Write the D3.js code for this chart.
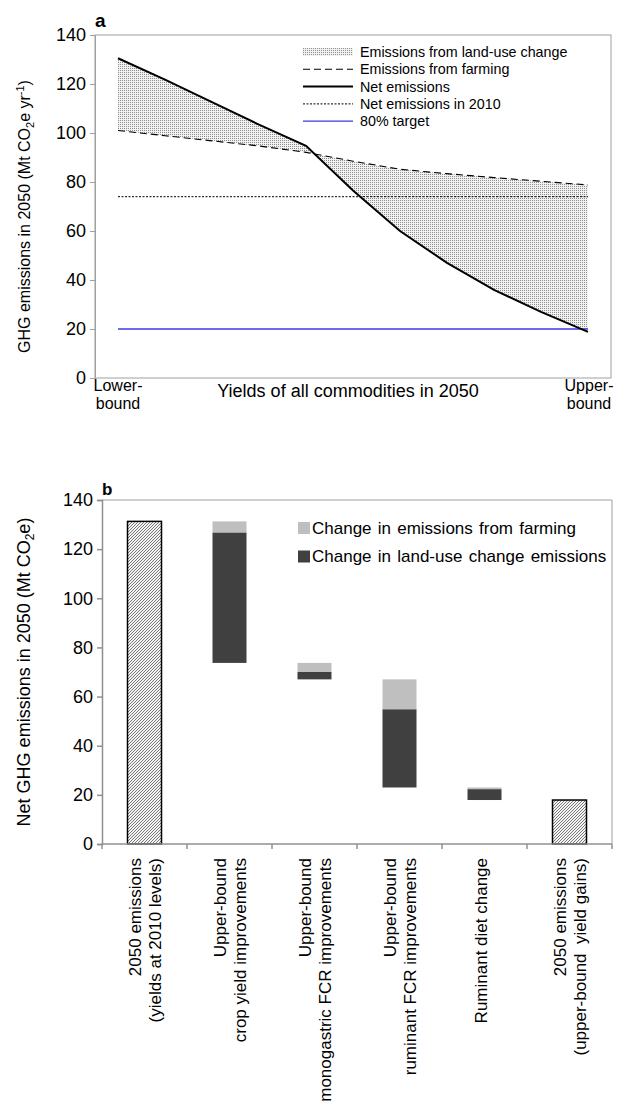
<!DOCTYPE html>
<html>
<head>
<meta charset="utf-8">
<script src="https://cdn.jsdelivr.net/npm/d3@7"></script>
<style>
  body { margin: 0; background: #fff; }
  svg { font-family: "Liberation Sans", Arial, sans-serif; }
</style>
</head>
<body>
<div id="chart"></div>
<script>
// ---- data, panel a (yield steps from lower-bound to upper-bound)
const yieldSteps = d3.range(11);
const netEmissions = [130.5, 121.8, 112.6, 103.4, 94.8, 76.5, 60, 47, 36, 27, 18.8];
const farmEmissions = [101, 98.9, 96.8, 94.7, 92.1, 88.5, 85.2, 83.4, 81.8, 80.3, 78.8];
const net2010 = 74;
const target80 = 20;
const yTicks = [0, 20, 40, 60, 80, 100, 120, 140];

// ---- data, panel b (waterfall)
const steps = [
  ["2050 emissions", "(yields at 2010 levels)"],
  ["Upper-bound", "crop yield improvements"],
  ["Upper-bound", "monogastric FCR improvements"],
  ["Upper-bound", "ruminant FCR improvements"],
  ["Ruminant diet change"],
  ["2050 emissions", "(upper-bound  yield gains)"]
];
const startTotal = 131.3;
const farmChange = [4.6, 3.7, 12.2, 0.7];
const lucChange = [53, 3.0, 31.8, 4.4];
const endTotal = 17.9;

const svg = d3.select("#chart").append("svg")
  .attr("width", 632).attr("height", 1105);

const defs = svg.append("defs");
const dots = defs.append("pattern").attr("id", "dots")
  .attr("width", 2).attr("height", 2).attr("patternUnits", "userSpaceOnUse");
dots.append("rect").attr("width", 2).attr("height", 2).attr("fill", "#f2f2f2");
dots.append("rect").attr("width", 1).attr("height", 1).attr("fill", "#8c8c8c");

const hatch = defs.append("pattern").attr("id", "hatch")
  .attr("width", 3).attr("height", 3).attr("patternUnits", "userSpaceOnUse");
hatch.append("rect").attr("width", 3).attr("height", 3).attr("fill", "#f4f4f4");
hatch.append("path").attr("d", "M-1,1 l2,-2 M0,3 l3,-3 M2,4 l2,-2")
  .attr("stroke", "#6a6a6a").attr("stroke-width", 0.9);

// ================= panel a =================
const a = { left: 95, right: 611, top: 35, bottom: 378 };
const xa = d3.scaleLinear().domain([0, 10]).range([118, 588]);
const ya = d3.scaleLinear().domain([0, 140]).range([a.bottom, a.top]);

const ga = svg.append("g");
ga.append("rect")
  .attr("x", a.left).attr("y", a.top)
  .attr("width", a.right - a.left).attr("height", a.bottom - a.top)
  .attr("fill", "none").attr("stroke", "#a0a0a0");

ga.append("path")
  .datum(yieldSteps)
  .attr("d", d3.area().x(i => xa(i)).y0(i => ya(farmEmissions[i])).y1(i => ya(netEmissions[i])))
  .attr("fill", "url(#dots)");

ga.append("line")
  .attr("x1", xa(0)).attr("x2", xa(10))
  .attr("y1", ya(net2010)).attr("y2", ya(net2010))
  .attr("stroke", "#000").attr("stroke-width", 1).attr("stroke-dasharray", "2,1.5");

ga.append("line")
  .attr("x1", xa(0)).attr("x2", xa(10))
  .attr("y1", ya(target80)).attr("y2", ya(target80))
  .attr("stroke", "#3a3ae0").attr("stroke-width", 1.3);

ga.append("path")
  .datum(yieldSteps)
  .attr("d", d3.line().x(i => xa(i)).y(i => ya(farmEmissions[i])))
  .attr("fill", "none").attr("stroke", "#000").attr("stroke-width", 1.1)
  .attr("stroke-dasharray", "7,4");

ga.append("path")
  .datum(yieldSteps)
  .attr("d", d3.line().x(i => xa(i)).y(i => ya(netEmissions[i])))
  .attr("fill", "none").attr("stroke", "#000").attr("stroke-width", 2);

const axA = ga.append("g")
  .attr("transform", `translate(${a.left},0)`)
  .call(d3.axisLeft(ya).tickValues(yTicks).tickSize(5).tickPadding(4));
axA.select(".domain").attr("stroke", "#a0a0a0");
axA.selectAll(".tick line").attr("stroke", "#a0a0a0");
axA.selectAll(".tick text").attr("font-size", 18).attr("fill", "#000")
  .attr("font-family", "Liberation Sans, Arial, sans-serif");

ga.append("text").attr("x", 95).attr("y", 27)
  .attr("font-size", 19).attr("font-weight", "bold").text("a");

const yla = ga.append("text")
  .attr("transform", `translate(30,${(a.top + a.bottom) / 2 + 10}) rotate(-90)`)
  .attr("text-anchor", "middle").attr("font-size", 16);
yla.append("tspan").text("GHG emissions in 2050 (Mt CO");
yla.append("tspan").attr("font-size", 11).attr("dy", 4).text("2");
yla.append("tspan").attr("dy", -4).text("e yr");
yla.append("tspan").attr("font-size", 11).attr("dy", -6).text("-1");
yla.append("tspan").attr("dy", 6).text(")");

ga.append("text").attr("x", 348).attr("y", 397)
  .attr("text-anchor", "middle").attr("font-size", 18)
  .text("Yields of all commodities in 2050");

[["Lower-", "bound", 0], ["Upper-", "bound", 10]].forEach(([l1, l2, v]) => {
  const t = ga.append("text").attr("text-anchor", "middle").attr("font-size", 16);
  t.append("tspan").attr("x", xa(v)).attr("y", 391).attr("dx", v === 0 ? 0 : 1).text(l1);
  t.append("tspan").attr("x", xa(v)).attr("y", 409).attr("dx", v === 0 ? 0 : 1).text(l2);
});

// legend a
const legA = ga.append("g").attr("transform", "translate(303,52)");
const legItems = ["Emissions from land-use change", "Emissions from farming",
  "Net emissions", "Net emissions in 2010", "80% target"];
legItems.forEach((name, i) => {
  const y = i * 17.3;
  if (i === 0) {
    legA.append("rect").attr("x", 0).attr("y", y - 4).attr("width", 50).attr("height", 8)
      .attr("fill", "url(#dots)");
  } else {
    const style = [null,
      { c: "#000", w: 1.1, d: "7,4" },
      { c: "#000", w: 2, d: null },
      { c: "#000", w: 1, d: "2,1.5" },
      { c: "#3a3ae0", w: 1.3, d: null }][i];
    legA.append("line").attr("x1", 0).attr("x2", 50).attr("y1", y).attr("y2", y)
      .attr("stroke", style.c).attr("stroke-width", style.w)
      .attr("stroke-dasharray", style.d);
  }
  legA.append("text").attr("x", 57).attr("y", y).attr("dy", "0.35em")
    .attr("font-size", 14.3).text(name);
});

// ================= panel b =================
const b = { left: 102, right: 612, top: 500, bottom: 844 };
const xb = d3.scaleBand().domain(d3.range(steps.length)).range([b.left, b.right])
  .paddingInner(0.6).paddingOuter(0.3);
const yb = d3.scaleLinear().domain([0, 140]).range([b.bottom, b.top]);

const gb = svg.append("g");
gb.append("line").attr("x1", b.left).attr("x2", b.right).attr("y1", b.top).attr("y2", b.top)
  .attr("stroke", "#a0a0a0");
gb.append("line").attr("x1", b.right).attr("x2", b.right).attr("y1", b.top).attr("y2", b.bottom)
  .attr("stroke", "#a0a0a0");

// waterfall pieces
let level = startTotal;
const pieces = [];
farmChange.forEach((f, i) => {
  pieces.push({ i: i + 1, top: level, bottom: level - f, kind: "farm" });
  level -= f;
  pieces.push({ i: i + 1, top: level, bottom: level - lucChange[i], kind: "luc" });
  level -= lucChange[i];
});

gb.selectAll(".total")
  .data([{ i: 0, v: startTotal }, { i: 5, v: endTotal }])
  .enter().append("rect")
  .attr("x", d => xb(d.i)).attr("width", xb.bandwidth())
  .attr("y", d => yb(d.v)).attr("height", d => yb(0) - yb(d.v))
  .attr("fill", "url(#hatch)").attr("stroke", "#000").attr("stroke-width", 1.5);

gb.selectAll(".piece")
  .data(pieces)
  .enter().append("rect")
  .attr("x", d => xb(d.i)).attr("width", xb.bandwidth())
  .attr("y", d => yb(d.top)).attr("height", d => yb(d.bottom) - yb(d.top))
  .attr("fill", d => d.kind === "farm" ? "#bfbfbf" : "#404040");

const axB = gb.append("g")
  .attr("transform", `translate(${b.left},0)`)
  .call(d3.axisLeft(yb).tickValues(yTicks).tickSize(5).tickPadding(4));
axB.select(".domain").attr("stroke", "#909090").attr("stroke-width", 1.5);
axB.selectAll(".tick line").attr("stroke", "#909090").attr("stroke-width", 1.5);
axB.selectAll(".tick text").attr("font-size", 18).attr("fill", "#000")
  .attr("font-family", "Liberation Sans, Arial, sans-serif");

// category boundaries on the x axis
const bounds = d3.range(steps.length + 1).map(k => b.left + k * xb.step());
gb.append("line").attr("x1", b.left).attr("x2", b.right).attr("y1", b.bottom).attr("y2", b.bottom)
  .attr("stroke", "#909090").attr("stroke-width", 1.5);
gb.selectAll(".xtick").data(bounds).enter().append("line")
  .attr("x1", d => d).attr("x2", d => d).attr("y1", b.bottom).attr("y2", b.bottom + 5)
  .attr("stroke", "#909090").attr("stroke-width", 1.5);

steps.forEach((lines, i) => {
  const cx = xb(i) + xb.bandwidth() / 2;
  const t = gb.append("text")
    .attr("transform", `translate(${cx},858) rotate(-90)`)
    .attr("text-anchor", "end").attr("font-size", 17);
  lines.forEach((ln, k) => {
    const off = lines.length === 1 ? -3 : (k === 0 ? -9 : 11);
    t.append("tspan").attr("x", 0).attr("y", off).attr("dy", "0.35em")
      .attr("xml:space", "preserve").text(ln);
  });
});

gb.append("text").attr("x", 102).attr("y", 495)
  .attr("font-size", 17).attr("font-weight", "bold").text("b");

const ylb = gb.append("text")
  .attr("transform", `translate(30,${(b.top + b.bottom) / 2}) rotate(-90)`)
  .attr("text-anchor", "middle").attr("font-size", 18);
ylb.append("tspan").text("Net GHG emissions in 2050 (Mt CO");
ylb.append("tspan").attr("font-size", 12).attr("dy", 4).text("2");
ylb.append("tspan").attr("dy", -4).text("e)");

// legend b
const legB = gb.append("g").attr("transform", "translate(298,522)");
[["Change in emissions from farming", "#bfbfbf"],
 ["Change in land-use change emissions", "#404040"]].forEach(([name, col], i) => {
  const y = i * 28.5;
  legB.append("rect").attr("x", 0).attr("y", y).attr("width", 12).attr("height", 12).attr("fill", col);
  legB.append("text").attr("x", 14).attr("y", y + 6).attr("dy", "0.35em")
    .attr("font-size", 17).attr("word-spacing", 1.5).text(name);
});
</script>
</body>
</html>
